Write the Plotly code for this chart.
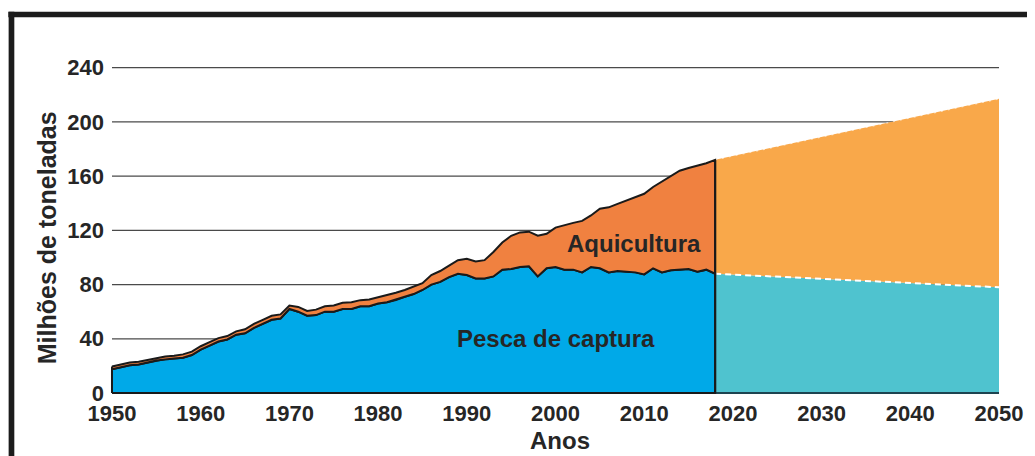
import plotly.graph_objects as go

# ---------------- data ----------------
years = list(range(1950, 2019))
captura = [17.5, 19, 20.5, 21, 22.5, 24, 25, 25.5, 26, 28,
           32, 35, 38, 39.5, 43, 44, 48, 51, 54, 55,
           62, 60, 57, 57.5, 60, 60, 62, 62, 64, 64,
           66, 67, 68.5, 71, 73, 76, 80, 82, 85.5, 88,
           87, 84.5, 84.5, 86, 91, 91.5, 93, 93.5, 86, 92,
           93, 91, 91, 89, 93, 92, 89, 90, 89.5, 89,
           87.5, 92, 89, 90.5, 91, 91.5, 89.5, 91, 88]
total = [19.5, 21, 22.5, 23, 24.5, 26, 27, 27.5, 28.5, 30.5,
         34.5, 37.5, 40.5, 42, 45.5, 47, 51, 54, 57, 58,
         64.5, 63.5, 60.5, 61.5, 64, 64.5, 66.5, 67, 68.5, 69,
         70.5, 72, 74, 76, 78.5, 81, 87, 90, 94, 98,
         99, 97, 98, 104, 111, 116, 118.5, 119, 116, 117.5,
         122, 124, 125.5, 127, 131, 136, 137, 139.5, 142, 144,
         147, 152, 156, 160.5, 164, 166, 167.5, 169.5, 172]

proj_years = [2018, 2050]
proj_captura = [88, 78]
proj_total = [172, 217]

x_ticks = [1950, 1960, 1970, 1980, 1990, 2000, 2010, 2020, 2030, 2040, 2050]
y_ticks = [0, 40, 80, 120, 160, 200, 240]

label_aqui = "Aquicultura"
label_pesca = "Pesca de captura"
x_title = "Anos"
y_title = "Milhões de toneladas"

# ---------------- colours ----------------
BLUE = "#00A9E8"
ORANGE = "#F08140"
P_ORANGE = "#F9A84A"
P_TEAL = "#4FC3CF"
TXT = "#262626"
FONT = "Liberation Sans, Arial, sans-serif"

# ---------------- geometry ----------------
# the page body has an 8px margin; work in window pixels and shift
OFF = 8
W, H = 1035 - OFF, 456 - OFF
# plot area in window pixels
PL, PR, PT, PB = 108, 1006, 60, 396
L, R, T, B = PL - OFF, W - (PR - OFF), PT - OFF, H - (PB - OFF)
# anchors (window px): 1950 -> 112, 2050 -> 1002 ; 0 -> 393, 240 -> 67.7
xpx = (1002 - 112) / 100.0
ypx = (393 - 67.7) / 240.0
x0 = 1950 - (112 - PL) / xpx
x1 = 2050 + (PR - 1002) / xpx
y1 = (393 - PT) / ypx
y0 = (393 - PB) / ypx
pw, ph = PR - PL, PB - PT


def paper_x(px):
    return (px - PL) / pw


def paper_y(py):
    return 1 - (py - PT) / ph


fig = go.Figure()

# projections
fig.add_trace(go.Scatter(
    x=[proj_years[0], proj_years[1], proj_years[1], proj_years[0], proj_years[0]],
    y=[0, 0, proj_captura[1], proj_captura[0], 0],
    fill="toself", fillcolor=P_TEAL, line=dict(width=0), mode="lines",
    hoverinfo="skip", showlegend=False))
fig.add_trace(go.Scatter(
    x=[proj_years[0], proj_years[1], proj_years[1], proj_years[0], proj_years[0]],
    y=[proj_captura[0], proj_captura[1], proj_total[1], proj_total[0], proj_captura[0]],
    fill="toself", fillcolor=P_ORANGE, line=dict(width=0), mode="lines",
    hoverinfo="skip", showlegend=False))
fig.add_trace(go.Scatter(
    x=proj_years, y=proj_captura, mode="lines",
    line=dict(color="white", width=2, dash="6px,4px"),
    hoverinfo="skip", showlegend=False))
fig.add_trace(go.Scatter(
    x=proj_years, y=proj_total, mode="lines",
    line=dict(color="rgba(255,255,255,0.6)", width=1.2, dash="2px,5px"),
    hoverinfo="skip", showlegend=False))
fig.add_trace(go.Scatter(
    x=proj_years, y=[0, 0], mode="lines",
    line=dict(color="#1d4450", width=2.2),
    hoverinfo="skip", showlegend=False))

# historical: capture
fig.add_trace(go.Scatter(
    x=[years[0]] + years + [years[-1], years[0]],
    y=[0] + captura + [0, 0],
    fill="toself", fillcolor=BLUE, mode="lines",
    line=dict(color="#1a1a1a", width=2),
    hoverinfo="skip", showlegend=False))
# historical: aquaculture band
fig.add_trace(go.Scatter(
    x=years + years[::-1] + [years[0]],
    y=total + captura[::-1] + [total[0]],
    fill="toself", fillcolor=ORANGE, mode="lines",
    line=dict(color="#1a1a1a", width=2),
    hoverinfo="skip", showlegend=False))
# vertical line at end of history
fig.add_trace(go.Scatter(
    x=[years[-1], years[-1]], y=[0, total[-1]], mode="lines",
    line=dict(color="#1a1a1a", width=2),
    hoverinfo="skip", showlegend=False))

# gridlines behind
shapes = []
for v in y_ticks[1:]:
    shapes.append(dict(type="line", xref="x", yref="y", x0=1950, x1=2050,
                       y0=v, y1=v, line=dict(color="#4a4a4a", width=1.3),
                       layer="below"))
# frame (black border top and left)
shapes.append(dict(type="rect", xref="paper", yref="paper",
                   x0=paper_x(8), x1=paper_x(1045), y0=paper_y(17.3), y1=paper_y(11.7),
                   fillcolor="#1c1c1c", line=dict(width=0), layer="above"))
shapes.append(dict(type="rect", xref="paper", yref="paper",
                   x0=paper_x(8.3), x1=paper_x(14), y0=paper_y(470), y1=paper_y(11.7),
                   fillcolor="#1c1c1c", line=dict(width=0), layer="above"))

annotations = [
    dict(x=2008.9, y=110, xref="x", yref="y", text=label_aqui, showarrow=False,
         font=dict(family=FONT, size=24, color=TXT, weight="bold")),
    dict(x=2000.0, y=40, xref="x", yref="y", text=label_pesca, showarrow=False,
         font=dict(family=FONT, size=24, color=TXT, weight="bold")),
    dict(x=paper_x(562), y=paper_y(440), xref="paper", yref="paper", text=x_title,
         showarrow=False, xanchor="center", yanchor="middle",
         font=dict(family=FONT, size=24, color=TXT, weight="bold")),
    dict(x=paper_x(47), y=paper_y(238), xref="paper", yref="paper", text=y_title,
         showarrow=False, xanchor="center", yanchor="middle", textangle=-90,
         font=dict(family=FONT, size=25, color=TXT, weight="bold")),
]

fig.update_layout(
    width=W, height=H,
    margin=dict(l=L, r=R, t=T, b=B, pad=0),
    paper_bgcolor="white", plot_bgcolor="white",
    shapes=shapes, annotations=annotations,
    xaxis=dict(range=[x0, x1], tickvals=x_ticks, ticktext=[str(v) for v in x_ticks],
               showgrid=False, zeroline=False, showline=False, ticks="",
               tickfont=dict(family=FONT, size=22, color=TXT, weight="bold"),
               ticklabelstandoff=2, fixedrange=True),
    yaxis=dict(range=[y0, y1], tickvals=y_ticks, ticktext=[str(v) for v in y_ticks],
               showgrid=False, zeroline=False, showline=False, ticks="",
               tickfont=dict(family=FONT, size=22, color=TXT, weight="bold"),
               ticklabelstandoff=3, fixedrange=True),
    showlegend=False,
)

fig.write_html("out.html")
